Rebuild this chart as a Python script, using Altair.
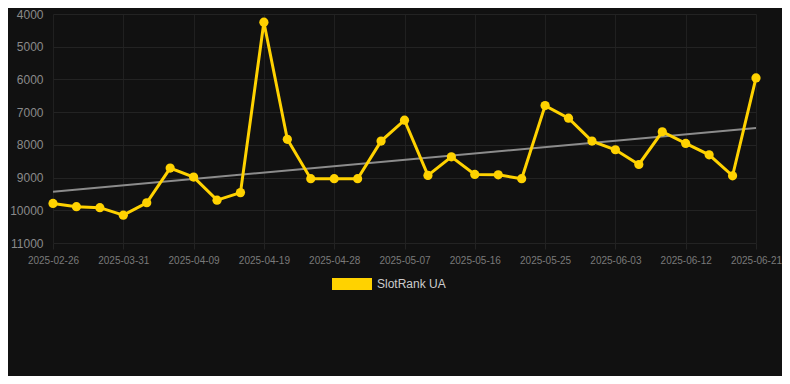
import json
import altair as alt
import pandas as pd

dates = [
    "2025-02-26", "2025-03-25", "2025-03-28", "2025-03-31", "2025-04-03",
    "2025-04-06", "2025-04-09", "2025-04-12", "2025-04-15", "2025-04-19",
    "2025-04-22", "2025-04-25", "2025-04-28", "2025-05-01", "2025-05-04",
    "2025-05-07", "2025-05-10", "2025-05-13", "2025-05-16", "2025-05-19",
    "2025-05-22", "2025-05-25", "2025-05-28", "2025-05-31", "2025-06-03",
    "2025-06-06", "2025-06-09", "2025-06-12", "2025-06-15", "2025-06-18",
    "2025-06-21",
]
rank_values = [
    9790, 9890, 9920, 10150, 9770, 8710, 8985, 9690, 9460, 4250,
    7830, 9035, 9035, 9035, 7885, 7245, 8935, 8365, 8905, 8915,
    9035, 6800, 7185, 7885, 8150, 8600, 7600, 7955, 8305, 8945,
    5955,
]
series_name = "SlotRank UA"
y_ticks = [4000, 5000, 6000, 7000, 8000, 9000, 10000, 11000]

df = pd.DataFrame({
    "idx": list(range(len(dates))),
    "date": dates,
    "value": rank_values,
    "series": [series_name] * len(dates),
})

label_expr = json.dumps(dates) + "[datum.value]"

x_enc = alt.X(
    "idx:Q",
    scale=alt.Scale(domain=[0, len(dates) - 1], nice=False, zero=False),
    axis=alt.Axis(
        values=list(range(0, len(dates), 3)),
        labelExpr=label_expr,
        labelOverlap=False,
        labelBound=False,
        labelFlush=False,
        title=None,
        labelFontSize=10,
        labelColor="#7a7a7a",
        labelFont="Liberation Sans",
        labelPadding=6,
        ticks=True,
        tickSize=6,
        tickColor="#232323",
        grid=True,
        gridColor="#202020",
        domain=False,
    ),
)
y_enc = alt.Y(
    "value:Q",
    scale=alt.Scale(domain=[4000, 11000], reverse=True, nice=False, zero=False),
    axis=alt.Axis(
        values=y_ticks,
        format="d",
        labelOverlap=False,
        title=None,
        labelFontSize=12,
        labelColor="#8a8a8a",
        labelFont="Liberation Sans",
        labelPadding=10,
        ticks=False,
        grid=True,
        gridColor="#232323",
        domain=False,
    ),
)

color_scale = alt.Scale(domain=[series_name], range=["#FFD200"])

base = alt.Chart(df)

trend = base.transform_regression("idx", "value").mark_line(
    color="#8c8c8c", strokeWidth=2
).encode(x=x_enc, y=y_enc)

line = base.mark_line(strokeWidth=3).encode(
    x=x_enc,
    y=y_enc,
    color=alt.Color(
        "series:N",
        scale=color_scale,
        legend=alt.Legend(
            title=None,
            orient="none",
            legendX=279,
            legendY=250,
            padding=0,
            symbolType="M-1,-0.3H1V0.3H-1Z",
            symbolSize=1600,
            symbolStrokeWidth=0,
            symbolOpacity=1,
            labelFontSize=12,
            labelColor="#cccccc",
            labelFont="Liberation Sans",
            labelOffset=5,
        ),
    ),
)

points = base.mark_circle(size=85, opacity=1).encode(
    x=x_enc,
    y=y_enc,
    color=alt.Color("series:N", scale=color_scale, legend=None),
)

chart = alt.layer(trend, line, points).properties(
    width=703,
    height=229,
    background="#111111",
    padding={"left": 45, "top": 6, "right": 26, "bottom": 133},
    autosize=alt.AutoSizeParams(type="none"),
).configure_view(stroke=None)

chart.save("out.html", embed_options={"renderer": "svg", "actions": False})
